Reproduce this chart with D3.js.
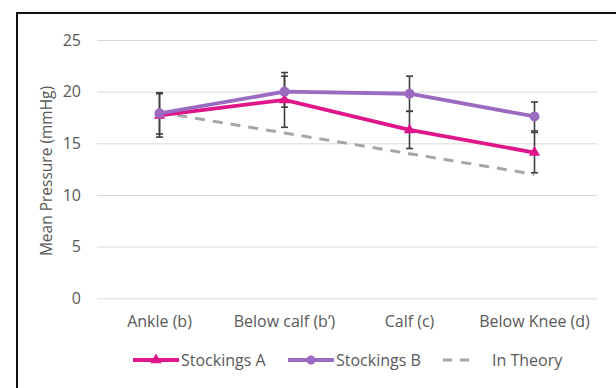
<!DOCTYPE html>
<html>
<head>
<meta charset="utf-8">
<script src="https://cdn.jsdelivr.net/npm/d3@7"></script>
<style>
  html, body { margin: 0; padding: 0; background: #fff; }
  svg { display: block; }
</style>
</head>
<body>
<svg id="chart" width="616" height="388"></svg>
<script>
// Measurement sites along the leg
const categories = ["Ankle (b)", "Below calf (b\u2019)", "Calf (c)", "Below Knee (d)"];
// Mean pressure (mmHg) per site
const stockingsA = [17.7, 19.2, 16.3, 14.1];
const stockingsB = [17.9, 20.0, 19.8, 17.6];
const inTheory   = [18, 16, 14, 12];
// Error bar half-widths (mmHg)
const errorsA = [2.1, 2.65, 1.8, 1.95];
const errorsB = [2.0, 1.5, 1.7, 1.4];
// Y axis ticks
const yTicks = [0, 5, 10, 15, 20, 25];

const colorA = "#e0158a";
const colorB = "#9b6bc1";
const colorT = "#a6a6a6";
const textColor = "#595959";
const font = "'Open Sans', sans-serif";
const fontSize = "16px";

const svg = d3.select("#chart");

// outer frame
svg.append("rect")
  .attr("x", 17).attr("y", 13)
  .attr("width", 700).attr("height", 500)
  .attr("fill", "none").attr("stroke", "#111").attr("stroke-width", 2);

const x = d3.scaleBand().domain(categories).range([97, 597]);
const y = d3.scaleLinear().domain([0, 25]).range([298.3, 40]);
const cx = c => x(c) + x.bandwidth() / 2;

// gridlines + y tick labels
const yAxis = d3.axisLeft(y).tickValues(yTicks).tickSize(-(597 - 97)).tickPadding(16);
const gy = svg.append("g").attr("transform", "translate(97,0)").call(yAxis);
gy.select(".domain").remove();
gy.selectAll(".tick line").attr("stroke", "#d9d9d9").attr("stroke-width", 1);
gy.selectAll(".tick text")
  .attr("fill", textColor).style("font-family", font).style("font-size", fontSize);

// x category labels
const xAxis = d3.axisBottom(x).tickSize(0);
const gx = svg.append("g").attr("transform", "translate(0,298.3)").call(xAxis);
gx.select(".domain").remove();
gx.selectAll(".tick text")
  .attr("y", 23.5).attr("dy", "0.35em")
  .attr("fill", textColor).style("font-family", font).style("font-size", fontSize);

// y axis title
svg.append("text")
  .attr("transform", "translate(47,171) rotate(-90)")
  .attr("text-anchor", "middle")
  .attr("dy", "0.35em")
  .attr("fill", textColor)
  .style("font-family", font).style("font-size", "15.5px")
  .text("Mean Pressure (mmHg)");

const line = d3.line().x((d, i) => cx(categories[i])).y(d => y(d));

// theoretical gradient
svg.append("path").datum(inTheory)
  .attr("d", line).attr("fill", "none")
  .attr("stroke", colorT).attr("stroke-width", 3)
  .attr("stroke-dasharray", "10,8");

// error bars
function errorBars(values, errs) {
  const g = svg.append("g").attr("stroke", "#3f3f3f").attr("stroke-width", 1.6);
  values.forEach((v, i) => {
    const xc = cx(categories[i]);
    const top = y(v + errs[i]), bot = y(v - errs[i]);
    g.append("line").attr("x1", xc).attr("x2", xc).attr("y1", top).attr("y2", bot);
    g.append("line").attr("x1", xc - 3.5).attr("x2", xc + 3.5).attr("y1", top).attr("y2", top);
    g.append("line").attr("x1", xc - 3.5).attr("x2", xc + 3.5).attr("y1", bot).attr("y2", bot);
  });
}
errorBars(stockingsA, errorsA);
errorBars(stockingsB, errorsB);

// Stockings A
svg.append("path").datum(stockingsA)
  .attr("d", line).attr("fill", "none")
  .attr("stroke", colorA).attr("stroke-width", 3.8);
const tri = d3.symbol().type(d3.symbolTriangle).size(55);
svg.selectAll(".markA").data(stockingsA).join("path")
  .attr("class", "markA")
  .attr("d", tri)
  .attr("transform", (d, i) => `translate(${cx(categories[i])},${y(d)})`)
  .attr("fill", colorA);

// Stockings B
svg.append("path").datum(stockingsB)
  .attr("d", line).attr("fill", "none")
  .attr("stroke", colorB).attr("stroke-width", 3.8);
svg.selectAll(".markB").data(stockingsB).join("circle")
  .attr("class", "markB")
  .attr("cx", (d, i) => cx(categories[i]))
  .attr("cy", d => y(d))
  .attr("r", 5)
  .attr("fill", colorB);

// legend
const legendY = 360;
const lg = svg.append("g");
function legendItem(x0, x1, label, color, kind) {
  const l = lg.append("line")
    .attr("x1", x0).attr("x2", x1).attr("y1", legendY).attr("y2", legendY)
    .attr("stroke", color).attr("stroke-width", kind === "dash" ? 3 : 3.8);
  if (kind === "dash") l.attr("stroke-dasharray", "9,8");
  const mx = (x0 + x1) / 2;
  if (kind === "tri") {
    lg.append("path").attr("d", tri).attr("transform", `translate(${mx},${legendY})`).attr("fill", color);
  } else if (kind === "circle") {
    lg.append("circle").attr("cx", mx).attr("cy", legendY).attr("r", 4.5).attr("fill", color);
  }
  lg.append("text")
    .attr("x", kind === "dash" ? x1 + 23 : x1 + 2).attr("y", legendY).attr("dy", "0.35em")
    .attr("fill", textColor).style("font-family", font).style("font-size", fontSize)
    .text(label);
}
legendItem(133, 179, "Stockings A", colorA, "tri");
legendItem(288, 334, "Stockings B", colorB, "circle");
legendItem(443, 469, "In Theory", colorT, "dash");
</script>
</body>
</html>
